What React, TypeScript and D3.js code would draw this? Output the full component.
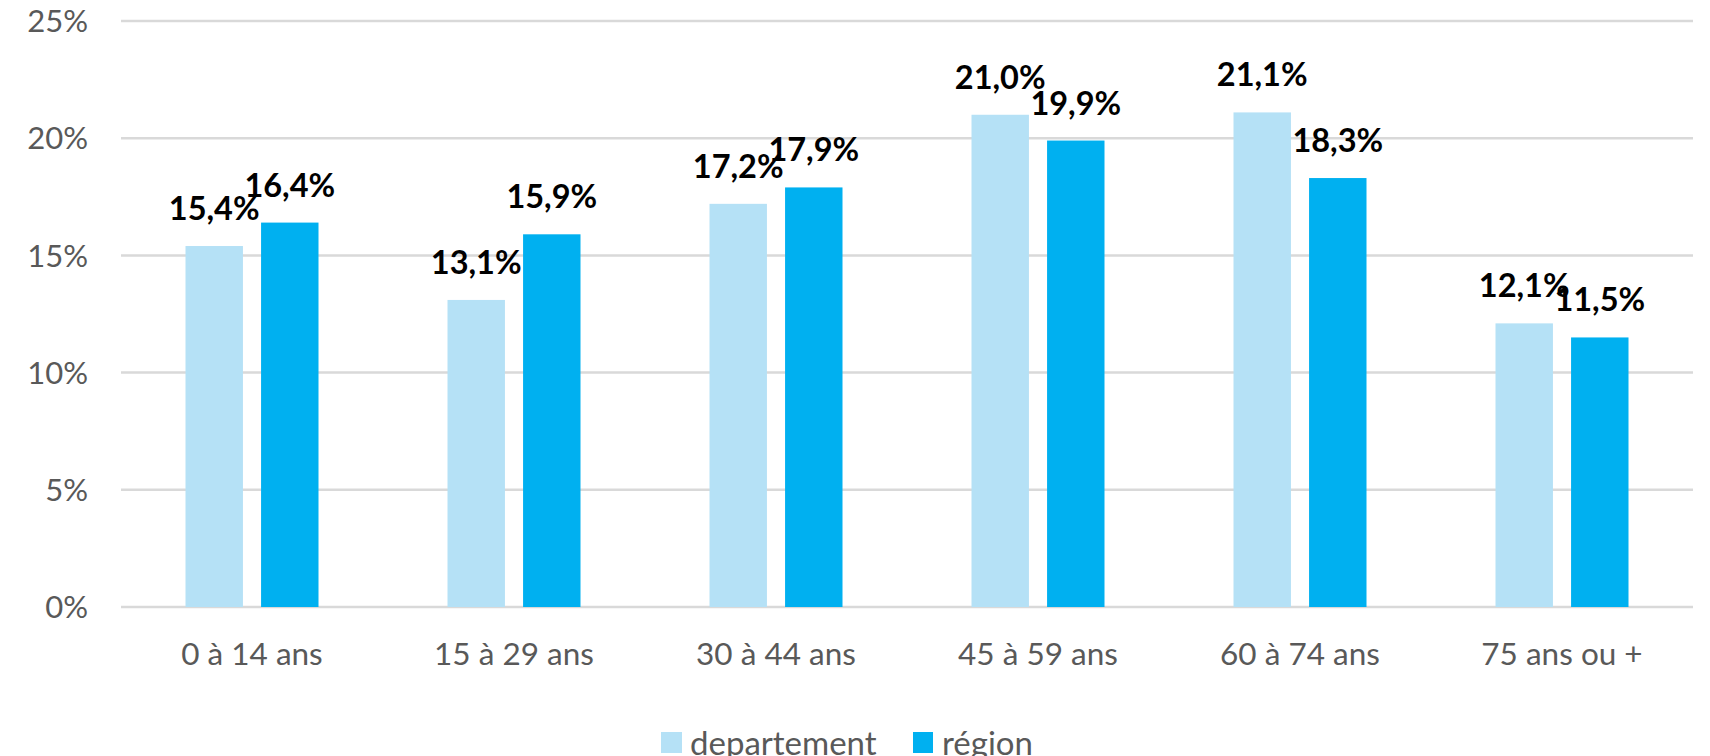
import React from "react";
import * as d3 from "d3";

const categories = ["0 à 14 ans", "15 à 29 ans", "30 à 44 ans", "45 à 59 ans", "60 à 74 ans", "75 ans ou +"];
const seriesNames = ["departement", "région"];
const departement = [15.4, 13.1, 17.2, 21.0, 21.1, 12.1];
const region = [16.4, 15.9, 17.9, 19.9, 18.3, 11.5];
const yTicks = [0, 5, 10, 15, 20, 25];
const colors = ["#B5E1F6", "#00B0F0"];

const W = 1710;
const H = 756;
const left = 121;
const right = 1693;
const top = 21;
const bottom = 607;
const FONT = "Lato, 'Open Sans', sans-serif";

export default function App() {
  const x = d3.scaleBand<string>().domain(categories).range([left, right]).paddingInner(0).paddingOuter(0);
  const y = d3.scaleLinear().domain([0, 25]).range([bottom, top]);
  const inner = d3.scaleBand<string>().domain(seriesNames).range([0, 133]).paddingInner(0.24);
  const bw = inner.bandwidth();
  const offset = (x.bandwidth() - 133) / 2;
  const series = [departement, region];
  const fmt = (v: number) => v.toFixed(1).replace(".", ",") + "%";

  return (
    <svg width={W} height={H} style={{ position: "absolute", left: 0, top: 0, background: "#fff" }} fontFamily={FONT}>
      {yTicks.map((t) => (
        <g key={t}>
          <line x1={left} x2={right} y1={y(t)} y2={y(t)} stroke="#D9D9D9" strokeWidth={2.5} />
          <text x={88} y={y(t)} dy="0.36em" textAnchor="end" fontSize={31} fill="#595959">
            {t}%
          </text>
        </g>
      ))}
      {categories.map((c, i) => (
        <g key={c}>
          {series.map((s, k) => {
            const bx = (x(c) as number) + offset + (inner(seriesNames[k]) as number);
            return (
              <rect key={k} x={bx} y={y(s[i])} width={bw} height={bottom - y(s[i])} fill={colors[k]} />
            );
          })}
          <text x={(x(c) as number) + x.bandwidth() / 2} y={665} textAnchor="middle" fontSize={31.5} fill="#595959">
            {c}
          </text>
        </g>
      ))}
      {categories.map((c, i) =>
        series.map((s, k) => {
          const bx = (x(c) as number) + offset + (inner(seriesNames[k]) as number);
          return (
            <text key={c + k} x={bx + bw / 2} y={y(s[i]) - 26} textAnchor="middle" fontSize={32.5} fontWeight="bold" fill="#000">
              {fmt(s[i])}
            </text>
          );
        })
      )}
      <g>
        <rect x={661} y={732} width={21} height={21} fill={colors[0]} />
        <text x={690} y={755} fontSize={33} fill="#595959">{seriesNames[0]}</text>
        <rect x={913} y={732} width={20} height={21} fill={colors[1]} />
        <text x={942} y={755} fontSize={33} fill="#595959">{seriesNames[1]}</text>
      </g>
    </svg>
  );
}
